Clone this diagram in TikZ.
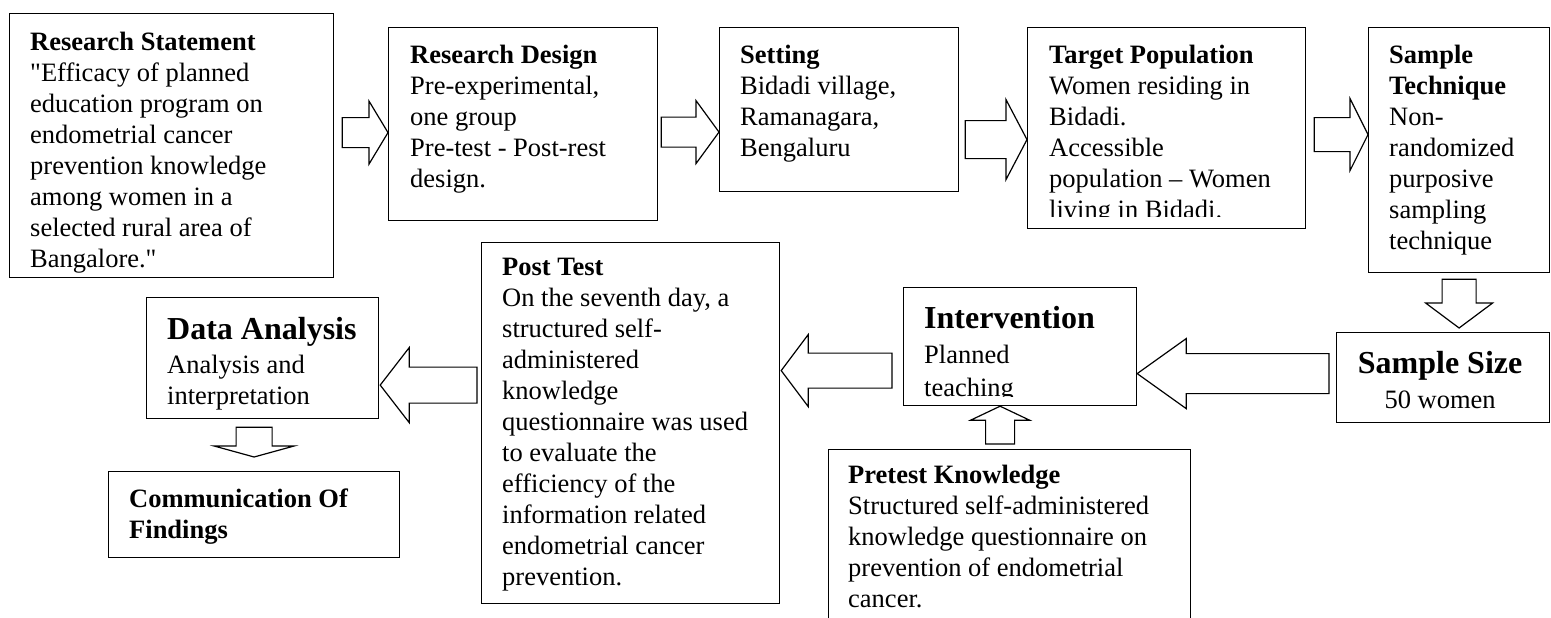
\documentclass[tikz,border=0pt]{standalone}
\usepackage{fontspec}
\setmainfont{Liberation Serif}[Ligatures=TeXOff]
\usetikzlibrary{calc, positioning}

\newcommand\bodyfont{\fontsize{26.5}{31}\selectfont}
\newcommand\titlefont{\fontsize{32}{34}\selectfont\bfseries}

\begin{document}
\begin{tikzpicture}[x=1pt, y=-1pt,
    stage/.style={draw, line width=1.2pt, anchor=north west, inner sep=0pt},
    txt/.style={anchor=north west, inner sep=0pt, align=left, font=\bodyfont},
    blockarrow/.style n args={3}{draw, line width=1.2pt, to path={
        ($(\tikztostart)!#1pt!90:(\tikztotarget)$)
        -- ($($(\tikztotarget)!#3pt!(\tikztostart)$)!#1pt!90:(\tikztotarget)$)
        -- ($($(\tikztotarget)!#3pt!(\tikztostart)$)!#2pt!90:(\tikztotarget)$)
        -- (\tikztotarget)
        -- ($($(\tikztotarget)!#3pt!(\tikztostart)$)!#2pt!-90:(\tikztotarget)$)
        -- ($($(\tikztotarget)!#3pt!(\tikztostart)$)!#1pt!-90:(\tikztotarget)$)
        -- ($(\tikztostart)!#1pt!-90:(\tikztotarget)$)
        -- cycle}}
]
    \useasboundingbox (0,0) rectangle (1551,618);

    % Top row
    \node[stage, minimum width=324, minimum height=264] (stmt) at (9,13) {};
    \node[txt] (stmt-t) at ([shift={(21,19)}]stmt.north west) {\textbf{Research Statement}\\
        "Efficacy of planned\\ education program on\\ endometrial cancer\\
        prevention knowledge\\ among women in a\\ selected rural area of\\ Bangalore."};

    \node[stage, minimum width=269, minimum height=193] (design) at (388,27) {};
    \node[txt] (design-t) at ([shift={(22,18)}]design.north west) {\textbf{Research Design}\\
        Pre-experimental,\\ one group\\ Pre-test - Post-rest\\ design.};

    \node[stage, minimum width=239, minimum height=164] (setting) at (719,27) {};
    \node[txt] (setting-t) at ([shift={(21,18)}]setting.north west) {\textbf{Setting}\\
        Bidadi village,\\ Ramanagara,\\ Bengaluru};

    \node[stage, minimum width=278, minimum height=201] (target) at (1027,27) {};
    \begin{scope}
        \clip (target.north west) rectangle ($(target.south east)+(0,-13)$);
        \node[txt] (target-t) at ([shift={(22,18)}]target.north west) {\textbf{Target Population}\\
            Women residing in\\ Bidadi.\\ Accessible\\ population – Women\\ living in Bidadi.};
    \end{scope}

    \node[stage, minimum width=181, minimum height=245] (tech) at (1368,27) {};
    \node[txt] (tech-t) at ([shift={(21,18)}]tech.north west) {\textbf{Sample}\\ \textbf{Technique}\\
        Non-\\ randomized\\ purposive\\ sampling\\ technique};

    % Middle row
    \node[stage, minimum width=213, minimum height=90] (size) at (1336,332) {};
    \node[txt, anchor=north, align=center] (size-t) at ([shift={(-3,19)}]size.north) {{\titlefont Sample Size}\\[4pt] 50 women};

    \node[stage, minimum width=233, minimum height=118] (interv) at (903,287) {};
    \begin{scope}
        \clip (interv.north west) rectangle ($(interv.south east)+(0,-10)$);
        \node[txt] (interv-t) at ([shift={(21,19)}]interv.north west) {{\titlefont Intervention}\\[4pt]
            Planned\\[2pt] teaching};
    \end{scope}

    \node[stage, minimum width=298, minimum height=361] (post) at (481,242) {};
    \node[txt] (post-t) at ([shift={(21,16)}]post.north west) {\textbf{Post Test}\\
        On the seventh day, a\\ structured self-\\ administered\\ knowledge\\
        questionnaire was used\\ to evaluate the\\ efficiency of the\\
        information related\\ endometrial cancer\\ prevention.};

    \node[stage, minimum width=232, minimum height=121] (anal) at (146,297) {};
    \begin{scope}
        \clip (anal.north west) rectangle ($(anal.south east)+(0,-10)$);
        \node[txt] (anal-t) at ([shift={(21,20)}]anal.north west) {{\titlefont Data Analysis}\\[3pt]
            Analysis and\\ interpretation};
    \end{scope}

    % Bottom row
    \node[stage, minimum width=362, minimum height=200] (pre) at (828,449) {};
    \node[txt] (pre-t) at ([shift={(20,16)}]pre.north west) {\textbf{Pretest Knowledge}\\
        Structured self-administered\\ knowledge questionnaire on\\
        prevention of endometrial\\ cancer.};

    \node[stage, minimum width=291, minimum height=86] (comm) at (108,471) {};
    \node[txt] (comm-t) at ([shift={(21,18)}]comm.north west) {\textbf{Communication Of}\\ \textbf{Findings}};

    % Arrow ends
    \coordinate (a1) at ($(design.west)+(0,8.5)$);
    \coordinate (a1s) at ($(stmt.east |- a1)+(8,0)$);
    \coordinate (a2) at ($(setting.west)+(0,22.5)$);
    \coordinate (a2s) at ($(design.east |- a2)+(3,0)$);
    \coordinate (a3) at ($(target.west)+(0,11.5)$);
    \coordinate (a3s) at ($(setting.east |- a3)+(6,0)$);
    \coordinate (a4) at ($(tech.west)+(0,-15.5)$);
    \coordinate (a4s) at ($(target.east |- a4)+(8,0)$);
    \coordinate (a5) at ($(size.north -| tech.south)+(0,-4)$);
    \coordinate (a5s) at ($(tech.south)+(0,6)$);
    \coordinate (a6) at ($(interv.east)+(0,27)$);
    \coordinate (a6s) at ($(size.west |- a6)+(-7,0)$);
    \coordinate (a7) at ($(interv.south)+(-20,0)$);
    \coordinate (a7s) at ($(pre.north -| a7)+(0,-5)$);
    \coordinate (a8) at ($(post.east |- interv.west)+(1,24)$);
    \coordinate (a8s) at ($(interv.west |- a8)+(-11,0)$);
    \coordinate (a9) at ($(anal.east)+(1,27)$);
    \coordinate (a9s) at ($(post.west |- a9)+(-4,0)$);
    \coordinate (a10) at ($(comm.north)+(0,-14)$);
    \coordinate (a10s) at ($(anal.south -| comm.north)+(0,8)$);

    % Connect
    \draw[blockarrow={15}{31.5}{19}] (a1s) to (a1);
    \draw[blockarrow={15}{31.5}{23}] (a2s) to (a2);
    \draw[blockarrow={19}{40}{21}] (a3s) to (a3);
    \draw[blockarrow={17}{36}{18}] (a4s) to (a4);
    \draw[blockarrow={17}{33.5}{25}] (a5s) to (a5);
    \draw[blockarrow={20}{35}{49}] (a6s) to (a6);
    \draw[blockarrow={14.5}{29.5}{14}] (a7s) to (a7);
    \draw[blockarrow={17.5}{36}{27}] (a8s) to (a8);
    \draw[blockarrow={18}{37.5}{29}] (a9s) to (a9);
    \draw[blockarrow={18}{40}{11}] (a10s) to (a10);
\end{tikzpicture}
\end{document}
